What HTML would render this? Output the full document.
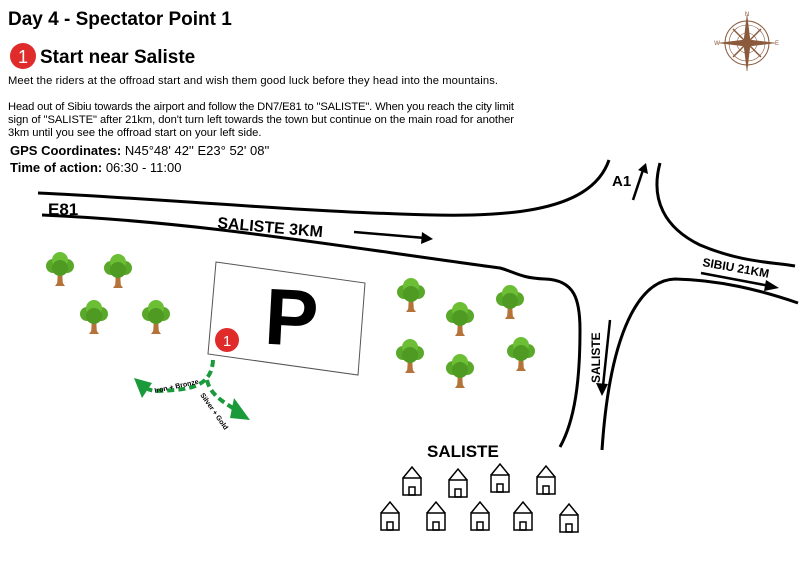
<!DOCTYPE html>
<html><head><style>
body{margin:0;background:#fff;width:800px;height:563px;overflow:hidden;font-family:"Liberation Sans",sans-serif;}
</style></head><body>
<svg width="800" height="563" viewBox="0 0 800 563" xmlns="http://www.w3.org/2000/svg" font-family="Liberation Sans, sans-serif">
<defs>
<g id="tree">
<path d="M-2 0 L-3 16 L3 16 L2 0Z" fill="#b5733a"/>
<path d="M-5 16 L0 9 L5 16Z" fill="#b5733a"/>
<circle cx="-7" cy="-4" r="7" fill="#5aa82a"/>
<circle cx="7" cy="-4" r="7" fill="#5aa82a"/>
<circle cx="0" cy="-10" r="8" fill="#6cbf35"/>
<circle cx="0" cy="-2" r="8" fill="#4e9a22"/>
</g>
<g id="house" fill="none" stroke="#000" stroke-width="1.5">
<path d="M-9 -3 L0 -14 L9 -3"/>
<rect x="-9" y="-3" width="18" height="17"/>
<rect x="-3" y="6" width="6" height="8"/>
</g>
</defs>
<text x="8" y="25" font-size="19" font-weight="bold">Day 4 - Spectator Point 1</text>
<circle cx="23" cy="56" r="13" fill="#e02b2b"/>
<text x="23" y="63" font-size="18" fill="#fff" text-anchor="middle">1</text>
<text x="40" y="63" font-size="19" font-weight="bold">Start near Saliste</text>
<g font-size="11.2">
<text x="8" y="84" textLength="490">Meet the riders at the offroad start and wish them good luck before they head into the mountains.</text>
<text x="8" y="110" textLength="506">Head out of Sibiu towards the airport and follow the DN7/E81 to "SALISTE". When you reach the city limit</text>
<text x="8" y="123" textLength="506">sign of "SALISTE" after 21km, don't turn left towards the town but continue on the main road for another</text>
<text x="8" y="136">3km until you see the offroad start on your left side.</text>
</g>
<text x="10" y="155" font-size="13"><tspan font-weight="bold">GPS Coordinates:</tspan> N45°48' 42'' E23° 52' 08''</text>
<text x="10" y="172" font-size="13"><tspan font-weight="bold">Time of action:</tspan> 06:30 - 11:00</text>
<g transform="translate(747,43)" stroke="#8b5a3c" fill="none">
<circle r="22" stroke-width="1"/><circle r="18" stroke-width="0.6"/><circle r="10" stroke-width="0.6"/>
<path d="M0 -28 L3 -3 L28 0 L3 3 L0 28 L-3 3 L-28 0 L-3 -3Z" fill="#8b5a3c" stroke-width="0.5"/>
<path d="M-14 -14 L14 14 M14 -14 L-14 14" stroke-width="1.5"/>
</g>
<g font-size="6" fill="#8b5a3c" text-anchor="middle"><text x="747" y="16">N</text><text x="717" y="45">W</text><text x="777" y="45">E</text></g>
<g fill="none" stroke="#000" stroke-width="3">
<path d="M38 193 C150 198 280 210 400 214 C500 218 590 215 609 160"/>
<path d="M42 215 C200 222 330 245 500 268 C515 272 520 278 545 279 C575 280 580 300 580 330 C580 380 575 420 560 447"/>
<path d="M660 163 C650 200 665 228 700 245 C740 262 770 262 795 266"/>
<path d="M798 303 C760 290 720 280 675 279 C640 280 610 330 602 450"/>
</g>
<text x="48" y="215" font-size="17" font-weight="bold">E81</text>
<text x="217" y="228" font-size="16" font-weight="bold" transform="rotate(5 217 228)">SALISTE 3KM</text>
<path d="M354 232 L425 238" stroke="#000" stroke-width="2.5"/><path d="M422 232 L433 239 L421 244Z"/>
<text x="612" y="186" font-size="15" font-weight="bold">A1</text>
<path d="M633 200 L643 170" stroke="#000" stroke-width="2.5"/><path d="M638 170 L646 163 L648 174Z"/>
<text x="702" y="266" font-size="12" font-weight="bold" transform="rotate(10 702 266)">SIBIU 21KM</text>
<path d="M701 273 L770 286" stroke="#000" stroke-width="2.5"/><path d="M766 280 L779 288 L764 291Z"/>
<text x="600" y="383" font-size="12" font-weight="bold" transform="rotate(-90 600 383)">SALISTE</text>
<path d="M610 320 L603 386" stroke="#000" stroke-width="2.5"/><path d="M596 383 L602 396 L608 384Z"/>
<path d="M216 262 L365 283 L358 375 L208 354Z" fill="#fff" stroke="#555" stroke-width="1"/>
<text x="290" y="345" font-size="80" font-weight="bold" transform="rotate(3 290 345)" text-anchor="middle">P</text>
<circle cx="227" cy="340" r="12" fill="#e02b2b"/>
<text x="227" y="346" font-size="15" fill="#fff" text-anchor="middle">1</text>
<g fill="none" stroke="#1a9a3a" stroke-width="4" stroke-dasharray="7,4">
<path d="M213 360 C212 380 200 388 175 390 C160 391 152 392 146 388"/>
<path d="M207 380 C210 395 225 403 236 410"/>
</g>
<path d="M134 378 L152 383 L142 398Z" fill="#1a9a3a"/>
<path d="M234 398 L250 420 L230 418Z" fill="#1a9a3a"/>
<text x="155" y="393" font-size="7" font-weight="bold" transform="rotate(-12 155 393)">Iron + Bronze</text>
<text x="200" y="395" font-size="7" font-weight="bold" transform="rotate(55 200 395)">Silver + Gold</text>
<use href="#tree" x="60" y="270"/><use href="#tree" x="118" y="272"/>
<use href="#tree" x="94" y="318"/><use href="#tree" x="156" y="318"/>
<use href="#tree" x="411" y="296"/><use href="#tree" x="460" y="320"/><use href="#tree" x="510" y="303"/>
<use href="#tree" x="410" y="357"/><use href="#tree" x="460" y="372"/><use href="#tree" x="521" y="355"/>
<text x="427" y="457" font-size="17" font-weight="bold">SALISTE</text>
<use href="#house" x="412" y="481"/><use href="#house" x="458" y="483"/><use href="#house" x="500" y="478"/><use href="#house" x="546" y="480"/>
<use href="#house" x="390" y="516"/><use href="#house" x="436" y="516"/><use href="#house" x="480" y="516"/><use href="#house" x="523" y="516"/><use href="#house" x="569" y="518"/>
</svg>
</body></html>
